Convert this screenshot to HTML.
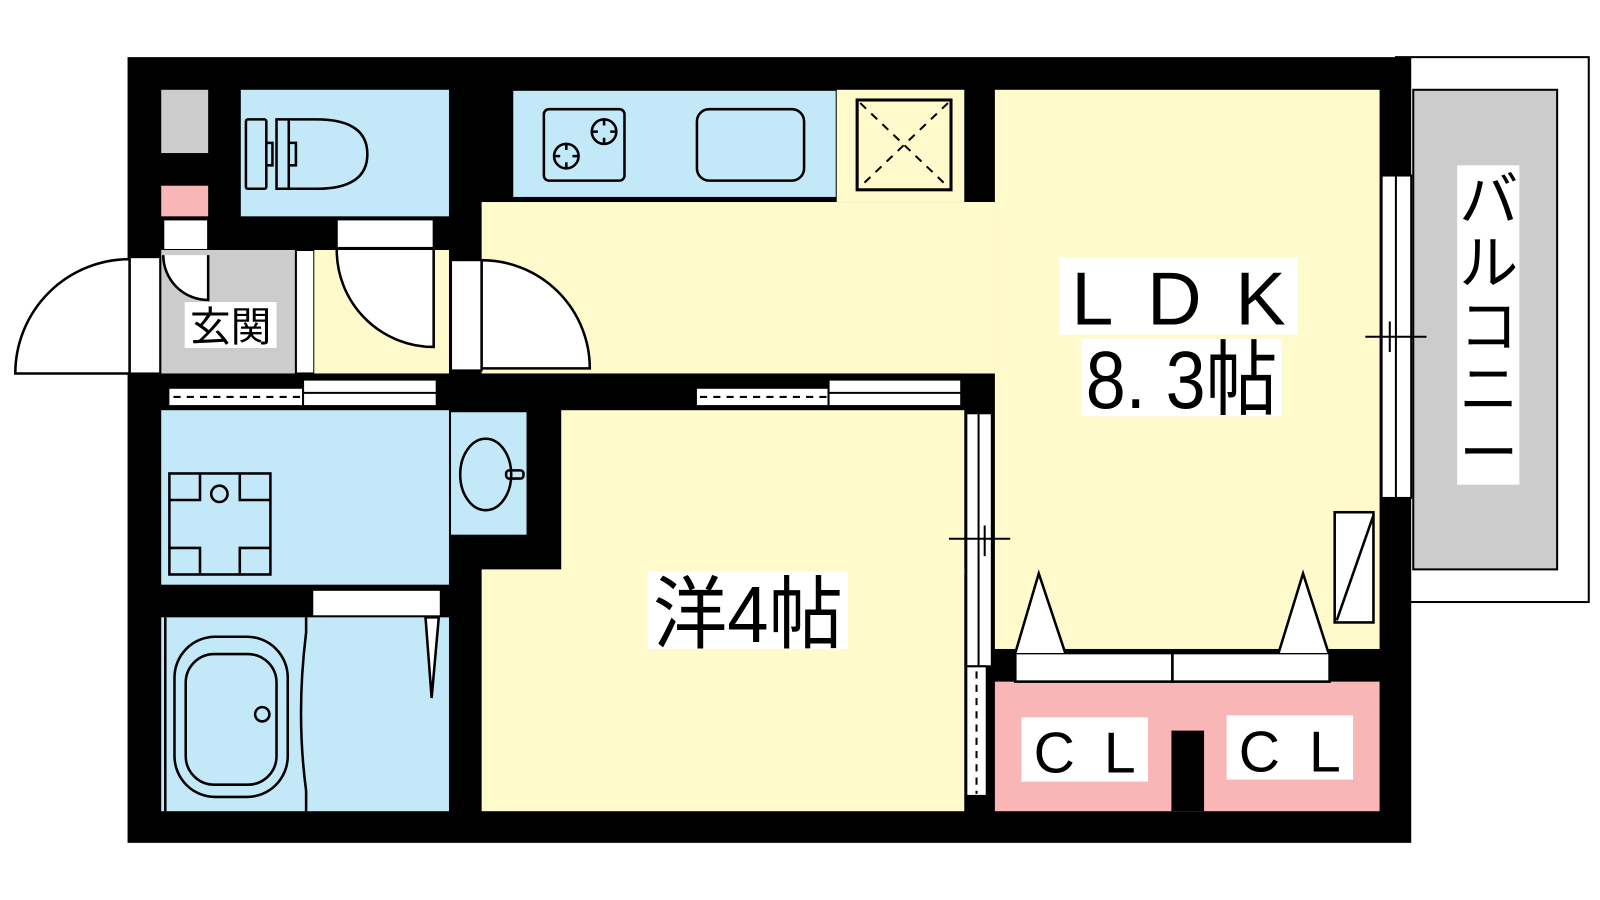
<!DOCTYPE html>
<html><head><meta charset="utf-8"><style>
html,body{margin:0;padding:0;background:#fff;width:1600px;height:900px;overflow:hidden}
svg{display:block}
text{font-family:"Liberation Sans","Noto Sans CJK JP",sans-serif;fill:#000}
</style></head><body>
<svg width="1600" height="900" viewBox="0 0 1600 900" xmlns="http://www.w3.org/2000/svg">
<rect width="1600" height="900" fill="#fff"/>
<g transform="scale(1.0204)">
<rect x="1368" y="56" width="189" height="534" fill="#fff" stroke="#000" stroke-width="2"/>
<rect x="1385" y="88" width="141" height="470" fill="#ccc" stroke="#000" stroke-width="2"/>
<rect x="125" y="56" width="1258" height="770" fill="#000"/>
<rect x="158" y="88" width="46" height="62" fill="#ccc"/>
<rect x="158" y="182" width="46" height="30" fill="#f8b6b6"/>
<rect x="236" y="88" width="204" height="124" fill="#c3e9f9"/>
<g fill="none" stroke="#000" stroke-width="2.5">
<rect x="241" y="117" width="20" height="68" rx="2"/>
<path d="M271 117 H310 Q360 117 360 151 Q360 185 310 185 H271 Z"/>
<line x1="283" y1="117" x2="283" y2="185"/>
<path d="M261 140 H267 V162 H261"/>
<path d="M283 140 H290 V162 H283"/>
</g>
<rect x="160" y="215" width="44" height="30" fill="#fff" stroke="#000" stroke-width="2"/>
<rect x="330" y="215" width="95" height="28" fill="#fff" stroke="#000" stroke-width="2"/>
<rect x="158" y="245" width="132" height="121" fill="#ccc"/>
<rect x="290" y="245" width="18" height="121" fill="#fff" stroke="#000" stroke-width="2"/>
<rect x="308" y="245" width="132" height="121" fill="#fffacb"/>
<path d="M160 250 A44 44 0 0 0 204 294 V250" fill="#fff" stroke="#000" stroke-width="2.5"/>
<path d="M330 245 A95 95 0 0 0 425 340 V245" fill="#fff" stroke="#000" stroke-width="2.5"/>
<rect x="127" y="252" width="30" height="114" fill="#fff" stroke="#000" stroke-width="2"/>
<path d="M127 254 A112 112 0 0 0 15 366 H127 Z" fill="#fff" stroke="#000" stroke-width="2.5"/>
<rect x="181" y="296" width="90" height="45" fill="#fff"/>
<text x="226" y="334" font-size="40" text-anchor="middle">玄関</text>
<rect x="472" y="198" width="503" height="168" fill="#fffacb"/>
<rect x="502" y="88" width="318" height="106" fill="#c3e9f9" stroke="#000" stroke-width="2"/>
<rect x="820" y="88" width="125" height="110" fill="#fffacb"/>
<g fill="none" stroke="#000" stroke-width="2.5">
<rect x="533" y="107" width="79" height="70" rx="5"/>
<circle cx="555" cy="153" r="12"/><circle cx="592" cy="129" r="12"/>
<path d="M549 153h-7M561 153h7M555 147v-7M555 159v7M586 129h-7M598 129h7M592 123v-7M592 135v7"/>
<rect x="683" y="107" width="105" height="70" rx="12"/>
<rect x="840" y="98" width="92" height="88" stroke-width="3"/>
<path d="M843 101L929 183M929 101L843 183" stroke-dasharray="8 7" stroke-width="2"/>
</g>
<rect x="442" y="255" width="30" height="108" fill="#fff" stroke="#000" stroke-width="2"/>
<path d="M472 255 A106 106 0 0 1 578 361 H472 Z" fill="#fff" stroke="#000" stroke-width="2.5"/>
<rect x="975" y="88" width="377" height="548" fill="#fffacb"/>
<rect x="945" y="198" width="30" height="168" fill="#fffacb"/>
<g stroke="#000" stroke-width="2">
<rect x="165" y="380" width="132" height="18" fill="#fff"/>
<rect x="297" y="372" width="131" height="26" fill="#fff"/>
<line x1="297" y1="385" x2="428" y2="385"/>
<line x1="170" y1="389" x2="295" y2="389" stroke-dasharray="7 6"/>
<rect x="682" y="380" width="130" height="18" fill="#fff"/>
<rect x="812" y="372" width="130" height="26" fill="#fff"/>
<line x1="812" y1="385" x2="942" y2="385"/>
<line x1="686" y1="389" x2="810" y2="389" stroke-dasharray="7 6"/>
</g>
<rect x="158" y="402" width="282" height="171" fill="#c3e9f9"/>
<g fill="none" stroke="#000" stroke-width="2.5">
<rect x="166" y="464" width="99" height="99"/>
<path d="M166 490h30v-26M235 464v26h30M166 537h30v26M235 563v-26h30"/>
<circle cx="215" cy="484" r="8"/>
</g>
<rect x="442" y="404" width="74" height="120" fill="#c3e9f9"/>
<g fill="none" stroke="#000" stroke-width="2.5">
<ellipse cx="476" cy="465" rx="25" ry="35"/>
<rect x="496" y="461" width="17" height="8" rx="3"/>
</g>
<rect x="306" y="578" width="126" height="26" fill="#fff" stroke="#000" stroke-width="2"/>
<rect x="158" y="605" width="282" height="190" fill="#c3e9f9"/>
<g fill="none" stroke="#000" stroke-width="2.5">
<line x1="162" y1="605" x2="162" y2="795"/>
<rect x="171" y="624" width="111" height="157" rx="40"/>
<rect x="182" y="641" width="89" height="128" rx="28"/>
<circle cx="257" cy="700" r="7"/>
<path d="M300 605 V620 Q290 700 300 775 V795"/>
<path d="M417 605 L430 605 L423 684 Z" fill="#fff"/>
</g>
<rect x="472" y="558" width="473" height="237" fill="#fffacb"/>
<rect x="550" y="402" width="395" height="160" fill="#fffacb"/>
<g stroke="#000" stroke-width="2">
<rect x="947" y="405" width="25" height="248" fill="#fff"/>
<line x1="959" y1="405" x2="959" y2="653"/>
<rect x="947" y="653" width="20" height="127" fill="#fff"/>
<line x1="957" y1="658" x2="957" y2="778" stroke-dasharray="7 6"/>
<line x1="930" y1="528" x2="990" y2="528"/>
<line x1="965" y1="515" x2="965" y2="545"/>
</g>
<rect x="975" y="668" width="377" height="127" fill="#f8b6b6"/>
<rect x="1148" y="716" width="32" height="79" fill="#000"/>
<g stroke="#000" stroke-width="2.5" fill="#fff">
<rect x="995" y="640" width="154" height="28"/>
<rect x="1149" y="640" width="154" height="28"/>
<path d="M995 640 L1018 562 L1044 640"/>
<path d="M1253 640 L1277 562 L1302 640"/>
<rect x="1308" y="502" width="38" height="108"/>
<line x1="1310" y1="608" x2="1346" y2="505"/>
</g>
<rect x="1001" y="703" width="124" height="63" fill="#fff"/>
<rect x="1202" y="701" width="124" height="63" fill="#fff"/>
<text x="1063" y="757" font-size="56" text-anchor="middle" textLength="100" lengthAdjust="spacing">CL</text>
<text x="1264" y="756" font-size="56" text-anchor="middle" textLength="100" lengthAdjust="spacing">CL</text>
<g stroke="#000" stroke-width="2">
<rect x="1354" y="172" width="29" height="316" fill="#fff"/>
<line x1="1368" y1="172" x2="1368" y2="488"/>
<line x1="1338" y1="330" x2="1398" y2="330"/>
<line x1="1362" y1="315" x2="1362" y2="345"/>
</g>
<rect x="1038" y="252" width="234" height="76" fill="#fff"/>
<text x="1155" y="318" font-size="74" text-anchor="middle" textLength="210" lengthAdjust="spacing">LDK</text>
<rect x="1060" y="332" width="196" height="76" fill="#fff"/>
<text x="1158" y="400" font-size="80" text-anchor="middle" textLength="188" lengthAdjust="spacingAndGlyphs">8. 3帖</text>
<rect x="635" y="560" width="196" height="76" fill="#fff"/>
<text x="733" y="629" font-size="78" text-anchor="middle" textLength="186" lengthAdjust="spacingAndGlyphs">洋4帖</text>
<rect x="1428" y="162" width="61" height="313" fill="#fff"/>
<text font-size="58" text-anchor="middle"><tspan x="1459" y="216">バ</tspan><tspan x="1459" y="278">ル</tspan><tspan x="1459" y="340">コ</tspan><tspan x="1459" y="402">ニ</tspan><tspan x="1459" y="464">ー</tspan></text>
</g>
</svg>
</body></html>
